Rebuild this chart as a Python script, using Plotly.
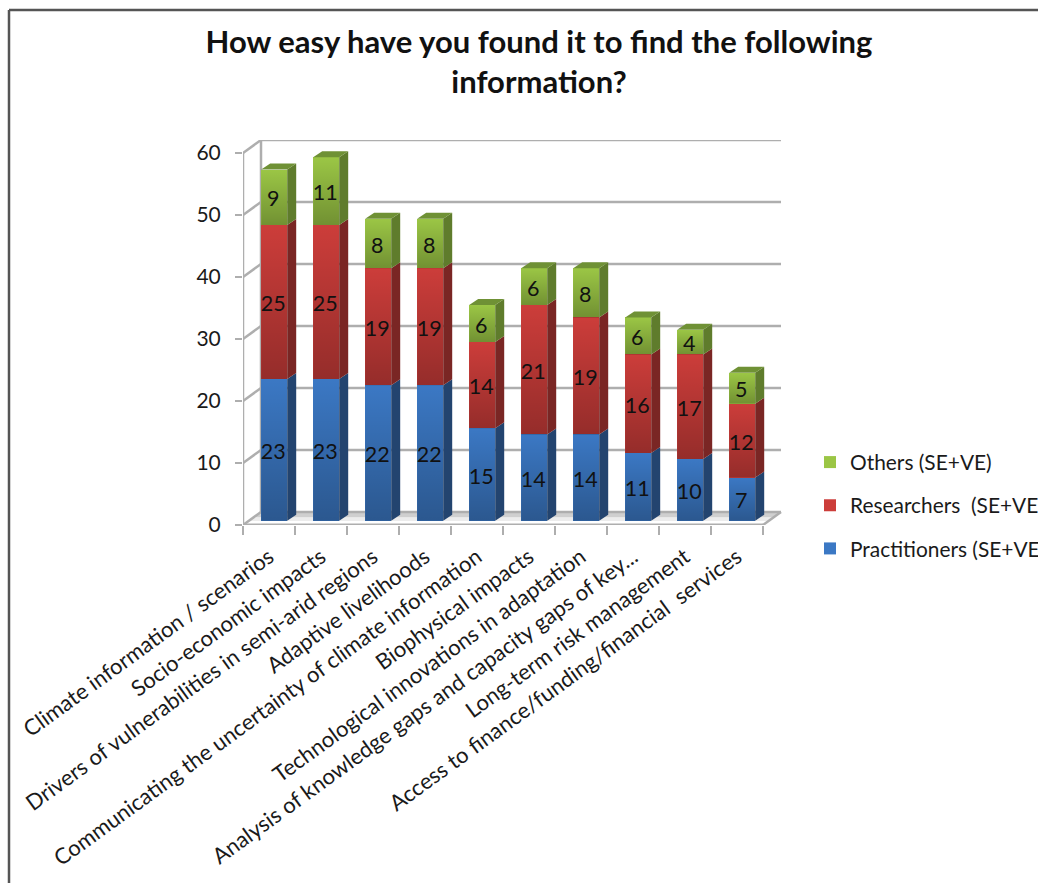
import plotly.graph_objects as go

categories = ["Climate information / scenarios", "Socio-economic impacts",
              "Drivers of vulnerabilities in semi-arid regions", "Adaptive livelihoods",
              "Communicating the uncertainty of climate information", "Biophysical impacts",
              "Technological innovations in adaptation",
              "Analysis of knowledge gaps and capacity gaps of key...",
              "Long-term risk management", "Access to finance/funding/financial  services"]
practitioners = [23, 23, 22, 22, 15, 14, 14, 11, 10, 7]
researchers = [25, 25, 19, 19, 14, 21, 19, 16, 17, 12]
others = [9, 11, 8, 8, 6, 6, 8, 6, 4, 5]
y_ticks = [0, 10, 20, 30, 40, 50, 60]

series = [("Practitioners (SE+VE)", practitioners, "#3b78c4", "#23446f", 3),
          ("Researchers  (SE+VE)", researchers, "#cc3d3a", "#7a2624", 2),
          ("Others (SE+VE)", others, "#9bc645", "#5f7c2c", 1)]

FONT = "Lato"
GRID = "#aeaeae"
PX_X = 52.0       # px per category
DX_WALL, DY_WALL = 18 / PX_X, 13 / 6.2     # perspective of the wall
BAR_W = 0.5
DX_BAR = 9 / PX_X
DY_BAR = 6 / 6.16
X_OFF = 0.6

fig = go.Figure()
n = len(categories)
xs = [i + X_OFF for i in range(n)]
bottoms = [0] * n
overlay, labels = [], []
for name, vals, col, side, rank in series:
    fig.add_trace(go.Bar(x=xs, y=vals, name=name, width=BAR_W, marker=dict(color=col, line_width=0),
                         xaxis="x", yaxis="y2", legendgroup=name, legendrank=rank, hoverinfo="skip"))
    for i, v in enumerate(vals):
        x0, x1 = xs[i] - BAR_W / 2, xs[i] + BAR_W / 2
        y0, y1 = bottoms[i], bottoms[i] + v
        overlay.append(go.Scatter(
            x=[x0, x1, x1, x0, x0], y=[y0, y0, y1, y1, y0], mode="lines", line_width=0,
            fill="toself", xaxis="x", yaxis="y2", showlegend=False, hoverinfo="skip",
            fillgradient=dict(type="vertical",
                              colorscale=[[0, "rgba(0,0,0,0.27)"], [1, "rgba(0,0,0,0)"]])))
        overlay.append(go.Scatter(
            x=[x1, x1 + DX_BAR, x1 + DX_BAR, x1, x1],
            y=[y0, y0 + DY_BAR, y1 + DY_BAR, y1, y0], mode="lines", line_width=0,
            fill="toself", fillcolor=side, xaxis="x", yaxis="y2", showlegend=False, hoverinfo="skip"))
        if name.startswith("Others"):
            overlay.append(go.Scatter(
                x=[x0, x1, x1 + DX_BAR, x0 + DX_BAR, x0],
                y=[y1, y1, y1 + DY_BAR, y1 + DY_BAR, y1], mode="lines", line_width=0,
                fill="toself", fillcolor="#6f9135", xaxis="x", yaxis="y2",
                showlegend=False, hoverinfo="skip"))
    labels.append(go.Scatter(
        x=[x - 0.02 for x in xs], y=[bottoms[i] + vals[i] / 2 - 0.6 for i in range(n)],
        text=[str(v) for v in vals],
        mode="text", textposition="middle center", xaxis="x", yaxis="y2",
        textfont=dict(family=FONT, size=21.5, color="#111111"), showlegend=False, hoverinfo="skip"))
    bottoms = [bottoms[i] + vals[i] for i in range(n)]
for t in overlay + labels:
    fig.add_trace(t)

# wall, floor and axis lines
shapes = []
top = y_ticks[-1]
def seg(x0, y0, x1, y1, layer="below", w=2.5):
    shapes.append(dict(type="line", xref="x", yref="y", x0=x0, y0=y0, x1=x1, y1=y1,
                       layer=layer, line=dict(color=GRID, width=w)))
def floor(f0, f1, color):
    a0, b0 = DX_WALL * f0, DY_WALL * f0
    a1, b1 = DX_WALL * f1, DY_WALL * f1
    shapes.append(dict(type="path", xref="x", yref="y", layer="below", line_width=0, fillcolor=color,
                       path=f"M {a0} {b0} L {n + a0} {b0} L {n + a1} {b1} L {a1} {b1} Z"))
floor(0, 0.3, "#ffffff")
floor(0.3, 0.6, "#ececec")
floor(0.6, 1.0, "#cfcfcf")
for v in y_ticks:
    seg(0, v, DX_WALL, v + DY_WALL)
    seg(DX_WALL, v + DY_WALL, n + DX_WALL, v + DY_WALL)
seg(0, 0, 0, top)
seg(DX_WALL, DY_WALL, DX_WALL, top + DY_WALL)
seg(0, 0, n, 0, layer="above", w=3)
seg(n, 0, n + DX_WALL, DY_WALL)
# outer frame of the screenshot
shapes.append(dict(type="line", xref="paper", yref="paper", x0=-234 / 539, x1=1.5, y0=(525 - 10) / 385,
                   y1=(525 - 10) / 385, line=dict(color="#555555", width=2.5)))
shapes.append(dict(type="line", xref="paper", yref="paper", x0=-234 / 539, x1=-234 / 539,
                   y0=(525 - 10) / 385, y1=-1, line=dict(color="#555555", width=2.5)))

fig.update_layout(
    width=1038, height=883, autosize=False, barmode="stack",
    paper_bgcolor="white", plot_bgcolor="rgba(0,0,0,0)",
    margin=dict(l=243, r=256, t=140, b=358, autoexpand=False, pad=0),
    font=dict(family=FONT, color="#1a1a1a"),
    title=dict(text="How easy have you found it to find the following<br>information?",
               x=539 / 1038, xanchor="center", xref="container", y=1 - 53 / 883, yanchor="top",
               font=dict(family=FONT, size=31, color="#111111", weight="bold")),
    xaxis=dict(range=[0, 539 / PX_X], tickmode="array", tickvals=[i + 0.5 for i in range(n)],
               ticktext=categories, tickangle=-36, ticks="", showgrid=False, zeroline=False,
               ticklabelstandoff=14,
               tickfont=dict(family=FONT, size=22, color="#1a1a1a"), showline=False,
               minor=dict(tickmode="array", tickvals=list(range(n + 1)), ticks="outside",
                          ticklen=9, tickwidth=2, tickcolor=GRID, showgrid=False)),
    yaxis=dict(range=[0, 385 / 6.2], tickmode="array", tickvals=y_ticks, ticks="outside", ticklen=7,
               tickwidth=2, tickcolor=GRID, showgrid=False, zeroline=False, showline=False,
               ticklabelstandoff=10,
               tickfont=dict(family=FONT, size=21, color="#1a1a1a")),
    yaxis2=dict(overlaying="y", range=[-4.3 / 6.16, 380.7 / 6.16], visible=False),
    legend=dict(xref="container", yref="container", x=810 / 1038, y=1 - 442 / 883, xanchor="left", yanchor="top",
                traceorder="grouped", tracegroupgap=13, bgcolor="rgba(0,0,0,0)",
                font=dict(family=FONT, size=20.9, color="#1a1a1a")),
    shapes=shapes, hovermode=False,
)
fig.write_html("out.html", config={"displayModeBar": False},
               post_script="document.body.style.margin='0';document.body.style.overflow='hidden';")
